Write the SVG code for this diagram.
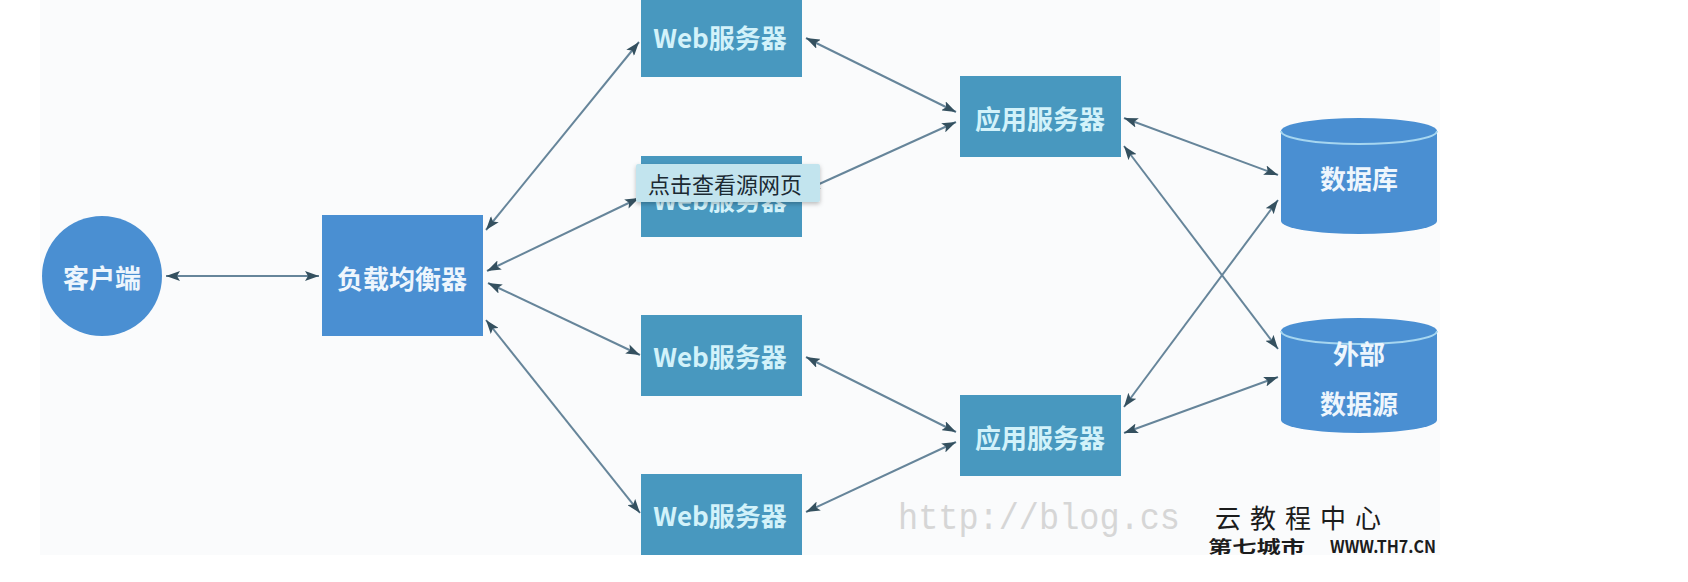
<svg xmlns="http://www.w3.org/2000/svg" width="1688" height="582" viewBox="0 0 1688 582">
<style>
.bg{fill:#ffffff}
.canvas{fill:#fafbfc}
.blue{fill:#4a8fd2}
.teal{fill:#4898bf}
.lbl{font-family:"Noto Sans CJK SC","Noto Sans",sans-serif;font-size:26px;font-weight:bold;text-anchor:middle;dominant-baseline:central}
.lw{fill:#eef6fd}
.lc{fill:#d2f2fa}
.conn line{stroke:#66859a;stroke-width:2;fill:none;marker-start:url(#ah);marker-end:url(#ah)}
.cap{fill:none;stroke:#a6d6f0;stroke-width:2}
.tip{fill:#c2e4ee}
.tiptext{font-family:"Noto Sans CJK SC","Noto Sans",sans-serif;font-size:22px;fill:#1b2a33;dominant-baseline:central}
.wm{font-family:"Liberation Mono",monospace;font-size:36px;fill:#d6d6d6}
.logo{font-family:"Noto Sans CJK SC","Noto Sans",sans-serif;fill:#1c1c1c}
</style>
<defs>
<marker id="ah" viewBox="0 0 14 10" refX="14" refY="5" markerWidth="14" markerHeight="10" markerUnits="userSpaceOnUse" orient="auto-start-reverse">
<path d="M0,0 L14,5 L0,10 L3,5 Z" fill="#34505f"/>
</marker>
<filter id="sh" x="-10%" y="-20%" width="120%" height="150%">
<feDropShadow dx="0" dy="2" stdDeviation="2" flood-color="#000" flood-opacity="0.25"/>
</filter>
</defs>
<rect class="bg" x="0" y="0" width="1688" height="582"/>
<rect class="canvas" x="40" y="0" width="1400" height="555"/>

<g id="connectors" class="conn">
<line x1="166" y1="276" x2="319" y2="276"/>
<line x1="486" y1="230" x2="639" y2="42"/>
<line x1="487" y1="271" x2="639" y2="198"/>
<line x1="488" y1="283" x2="640" y2="355"/>
<line x1="486" y1="320" x2="640" y2="513"/>
<line x1="806" y1="38" x2="956" y2="112"/>
<line x1="806" y1="190" x2="956" y2="122"/>
<line x1="806" y1="357" x2="956" y2="432"/>
<line x1="806" y1="512" x2="956" y2="442"/>
<line x1="1124" y1="118" x2="1278" y2="175"/>
<line x1="1124" y1="146" x2="1278" y2="349"/>
<line x1="1124" y1="407" x2="1278" y2="200"/>
<line x1="1124" y1="433" x2="1278" y2="377"/>
</g>

<g id="client">
<ellipse class="blue" cx="102" cy="276" rx="60" ry="60"/>
<text class="lbl lw" x="102" y="276">客户端</text>
</g>
<g id="loadbalancer">
<rect class="blue" x="322" y="215" width="161" height="121"/>
<text class="lbl lw" x="402" y="277">负载均衡器</text>
</g>
<g id="web1">
<rect class="teal" x="641" y="-4" width="161" height="81"/>
<text class="lbl lc" x="720" y="36">Web服务器</text>
</g>
<g id="web2">
<rect class="teal" x="641" y="156" width="161" height="81"/>
<text class="lbl lc" x="720" y="198">Web服务器</text>
</g>
<g id="web3">
<rect class="teal" x="641" y="315" width="161" height="81"/>
<text class="lbl lc" x="720" y="355">Web服务器</text>
</g>
<g id="web4">
<rect class="teal" x="641" y="474" width="161" height="81"/>
<text class="lbl lc" x="720" y="514">Web服务器</text>
</g>
<g id="app1">
<rect class="teal" x="960" y="76" width="161" height="81"/>
<text class="lbl lc" x="1040" y="117">应用服务器</text>
</g>
<g id="app2">
<rect class="teal" x="960" y="395" width="161" height="81"/>
<text class="lbl lc" x="1040" y="436">应用服务器</text>
</g>
<g id="database">
<path class="blue" d="M1281,131 A78,13 0 0 1 1437,131 L1437,221 A78,13 0 0 1 1281,221 Z"/>
<path class="cap" d="M1281,131 A78,13 0 0 0 1437,131"/>
<text class="lbl lw" x="1359" y="177">数据库</text>
</g>
<g id="external">
<path class="blue" d="M1281,331 A78,13 0 0 1 1437,331 L1437,420 A78,13 0 0 1 1281,420 Z"/>
<path class="cap" d="M1281,331 A78,13 0 0 0 1437,331"/>
<text class="lbl lw" x="1359" y="352">外部</text>
<text class="lbl lw" x="1359" y="402">数据源</text>
</g>

<g id="tooltip">
<rect class="tip" x="636" y="164" width="184" height="38" rx="2" filter="url(#sh)"/>
<text class="tiptext" x="648" y="183">点击查看源网页</text>
</g>

<g id="watermark">
<text class="wm" x="898" y="529" textLength="282" lengthAdjust="spacingAndGlyphs">http://blog.cs</text>
<text class="logo" x="1215" y="528" font-size="26" letter-spacing="9">云教程中心</text>
<text class="logo" x="1208" y="553" font-size="17" font-weight="bold" textLength="97" lengthAdjust="spacingAndGlyphs">第七城市</text>
<text class="logo" x="1330" y="553" font-family="Liberation Sans" font-size="17" font-weight="bold" textLength="106" lengthAdjust="spacingAndGlyphs">WWW.TH7.CN</text>
</g>
</svg>
